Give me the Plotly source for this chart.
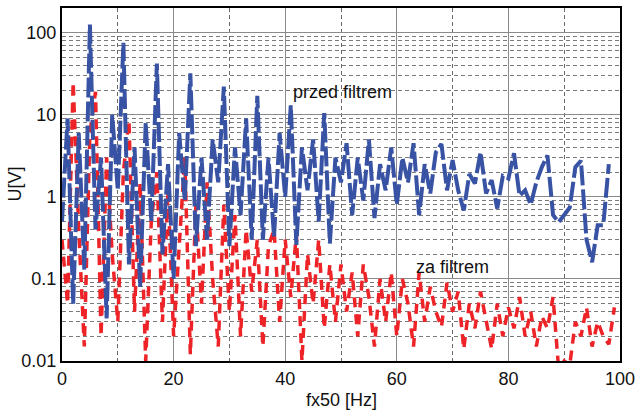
import plotly.graph_objects as go

harmonic = list(range(0, 101))

before_filter = [
    0.5, 9, 0.05, 6, 0.13, 125, 0.4, 3, 0.033, 10,
    1.2, 75, 0.15, 4, 0.08, 8, 0.5, 42, 0.2, 2.5,
    0.1, 6, 0.9, 32, 0.25, 3, 0.3, 5, 1.5, 22,
    0.25, 4, 0.6, 9, 0.3, 17, 0.3, 3, 0.33, 6,
    1.0, 13, 0.26, 4, 1.2, 5, 0.5, 10.5, 0.27, 3,
    1.5, 4.5, 0.6, 3, 0.9, 5, 0.55, 2.5, 1.2, 4,
    0.8, 3, 1.5, 4.5, 0.6, 2.5, 1.1, 3.5, 4.4, 1.2,
    2.8, 1.2, 0.68, 1.9, 1.45, 3.5, 1.1, 1.6, 0.72, 1.8,
    1.67, 3.4, 1.03, 1.2, 0.8, 1.5, 2.3, 3.2, 0.6, 0.49,
    0.6, 0.74, 2.3, 2.75, 0.3, 0.16, 0.45, 0.45, 2.5, None,
    None,
]

after_filter = [
    0.3, 0.05, 25, 0.4, 0.015, 6, 19, 0.02, 3, 0.2,
    0.03, 2, 8.5, 0.04, 1.5, 0.01, 0.5, 2, 0.03, 1.2,
    0.02, 0.3, 3, 0.012, 0.8, 0.05, 1.5, 0.1, 0.015, 0.8,
    0.04, 0.6, 0.02, 0.4, 0.07, 0.3, 0.015, 0.25, 0.4, 0.03,
    0.3, 0.06, 0.35, 0.01, 0.2, 0.05, 0.3, 0.025, 0.15, 0.03,
    0.15, 0.04, 0.12, 0.02, 0.15, 0.06, 0.015, 0.1, 0.03, 0.12,
    0.02, 0.1, 0.05, 0.015, 0.12, 0.03, 0.08, 0.04, 0.026, 0.09,
    0.04, 0.07, 0.014, 0.05, 0.025, 0.07, 0.03, 0.014, 0.05, 0.02,
    0.045, 0.025, 0.06, 0.02, 0.04, 0.015, 0.035, 0.025, 0.06, 0.008,
    0.01, 0.009, 0.03, 0.02, 0.045, 0.015, 0.03, 0.02, 0.016, 0.045,
    None,
]

x_ticks = [0, 20, 40, 60, 80, 100]
y_ticks = [0.01, 0.1, 1, 10, 100]
y_tick_labels = ["0.01", "0.1", "1", "10", "100"]

BLUE = "#3953a4"
RED = "#ee2328"
FONT = "Liberation Sans, Arial, sans-serif"

fig = go.Figure()
fig.add_trace(go.Scatter(
    x=harmonic, y=after_filter, mode="lines", name="za filtrem",
    line=dict(color=RED, width=3.5, dash="10px,7px"), connectgaps=False,
))
fig.add_trace(go.Scatter(
    x=harmonic, y=before_filter, mode="lines", name="przed filtrem",
    line=dict(color=BLUE, width=4, dash="20px,4px"), connectgaps=False,
))

fig.add_annotation(x=50.2, y=1.272, xref="x", yref="y", text="przed filtrem",
                   showarrow=False, font=dict(size=18, color="#111", family=FONT))
fig.add_annotation(x=69.9, y=-0.85, xref="x", yref="y", text="za filtrem",
                   showarrow=False, font=dict(size=18, color="#111", family=FONT))
# axis titles
fig.add_annotation(x=0.5, y=-0.110, xref="paper", yref="paper", text="fx50 [Hz]",
                   showarrow=False, xanchor="center", yanchor="middle",
                   font=dict(size=18, color="#111", family=FONT))
fig.add_annotation(x=-0.086, y=0.5, xref="paper", yref="paper", text="U[V]",
                   showarrow=False, xanchor="center", yanchor="middle", textangle=-90,
                   font=dict(size=18, color="#111", family=FONT))

fig.update_layout(
    width=636, height=411,
    margin=dict(l=62, r=16, t=8, b=50, autoexpand=False),
    paper_bgcolor="white", plot_bgcolor="white",
    showlegend=False,
    font=dict(family=FONT, size=18, color="#111"),
)
fig.update_xaxes(
    range=[0, 100], tickvals=x_ticks, ticks="", automargin=False,
    showgrid=True, gridcolor="#8a8a8a", gridwidth=1.3,
    minor=dict(dtick=10, showgrid=True, gridcolor="#6a6a6a", griddash="4px,3px", gridwidth=1),
    showline=True, linecolor="black", linewidth=2, mirror=True,
    zeroline=False,
    tickfont=dict(size=18),
)
fig.update_yaxes(
    type="log", range=[-2, 2.3], tickvals=y_ticks, ticktext=y_tick_labels, ticks="",
    automargin=False,
    showgrid=True, gridcolor="#8a8a8a", gridwidth=1.3,
    minor=dict(dtick="D1", showgrid=True, gridcolor="#7a7a7a", griddash="4px,3px", gridwidth=1),
    showline=True, linecolor="black", linewidth=2, mirror=True,
    zeroline=False,
    tickfont=dict(size=18),
)

fig.write_html(
    "out.html",
    config={"displayModeBar": False},
    post_script="document.body.style.margin='0';document.body.style.overflow='hidden';",
)
